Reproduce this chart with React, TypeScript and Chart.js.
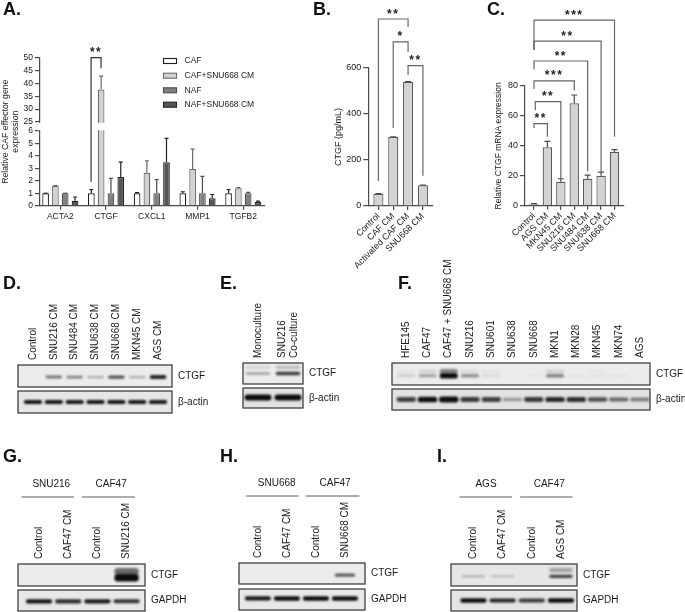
import React, { useEffect, useRef } from "react";
import { Chart, registerables, LinearScale, CategoryScale } from "chart.js";

/* ---------- data: panel A ---------- */
const genes = ["ACTA2", "CTGF", "CXCL1", "MMP1", "TGFB2"];
const aSeries = ["CAF", "CAF+SNU668 CM", "NAF", "NAF+SNU668 CM"];
const aCaf = [1, 1, 1, 1, 1];
const aCafCm = [1.6, 37.6, 2.65, 2.95, 1.4];
const aNaf = [1, 1, 1, 1, 1];
const aNafCm = [0.4, 2.3, 3.5, 0.6, 0.3];
const aCafErr = [0, 0.3, 0.05, 0.12, 0.3];
const aCafCmErr = [0.02, 5.2, 0.95, 1.6, 0.05];
const aNafErr = [0, 1.2, 1.1, 1.35, 0.07];
const aNafCmErr = [0.3, 1.2, 1.9, 0.3, 0.07];
const aTicks = [0, 1, 2, 3, 4, 5, 6, 25, 30, 35, 40, 45, 50];

/* ---------- data: panel B ---------- */
const bLabels = ["Control", "CAF CM", "Activated CAF CM", "SNU668 CM"];
const bValues = [53, 300, 540, 90];
const bErr = [0.5, 1, 1, 1];

/* ---------- data: panel C ---------- */
const cLabels = ["Control", "AGS CM", "MKN45 CM", "SNU216 CM", "SNU484 CM", "SNU638 CM", "SNU668 CM"];
const cValues = [1, 39, 16, 68.5, 18, 20, 36];
const cErr = [0.4, 4, 2, 5.5, 2.5, 2.5, 1.5];

/* ---------- data: significance brackets (x in category units, y in value units) ---------- */
const aBrackets = [{ from: 0.673, to: 0.891, top: 50, fromEnd: 1.93, toEnd: 45.9, stars: "**" }];
const bBrackets = [
  { from: 0, to: 2, top: 813, fromEnd: 109, toEnd: 778, stars: "**" },
  { from: 1, to: 2, top: 714, fromEnd: 339, toEnd: 670, stars: "*" },
  { from: 2, to: 3, top: 610, fromEnd: 570, toEnd: 132, stars: "**" },
];
const cBrackets = [
  { from: 0, to: 6, top: 124, fromEnd: 104, toEnd: 46, stars: "***" },
  { from: 0, to: 5, top: 110, fromEnd: 104, toEnd: 22.7, stars: "**" },
  { from: 0, to: 4, top: 96.7, fromEnd: 91, toEnd: 23, stars: "**" },
  { from: 0, to: 3, top: 83.4, fromEnd: 78, toEnd: 77, stars: "***" },
  { from: 0.1, to: 2, top: 69.5, fromEnd: 64, toEnd: 18, stars: "**" },
  { from: 0, to: 1, top: 54.8, fromEnd: 52, toEnd: 46, stars: "**" },
];

/* ---------- data: blot lanes and band densities ---------- */
const dLanes = ["Control", "SNU216 CM", "SNU484 CM", "SNU638 CM", "SNU668 CM", "MKN45 CM", "AGS CM"];
const dCtgf = [0, 0.5, 0.45, 0.28, 0.65, 0.28, 0.85];
const dActin = [0.92, 0.92, 0.9, 0.92, 0.92, 0.9, 0.9];
const eLanes = ["Monoculture", ["SNU216", "Co-culture"]];
const eCtgf = [0.32, 0.75];
const eCtgfSmear = [0.1, 0.2];
const eActin = [1, 1];
const fLanes = ["HFE145", "CAF47", "CAF47 + SNU668 CM", "SNU216", "SNU601", "SNU638", "SNU668", "MKN1", "MKN28", "MKN45", "MKN74", "AGS"];
const fCtgf = [0.15, 0.32, 1, 0.38, 0.08, 0, 0.03, 0.45, 0.04, 0.05, 0.05, 0];
const fCtgfSmear = [0.04, 0.1, 0.45, 0.08, 0.04, 0, 0, 0.12, 0, 0.03, 0, 0];
const fActin = [0.72, 0.95, 1, 0.75, 0.72, 0.32, 0.75, 0.82, 0.8, 0.65, 0.55, 0.45];
const gLanes = ["Control", "CAF47 CM", "Control", "SNU216 CM"];
const gCtgf = [0, 0, 0, 1];
const gCtgfSmear = [0, 0, 0, 0.55];
const gGapdh = [0.92, 0.82, 0.9, 0.78];
const hLanes = ["Control", "CAF47 CM", "Control", "SNU668 CM"];
const hCtgf = [0, 0, 0, 0.62];
const hGapdh = [0.9, 1, 0.95, 0.95];
const iLanes = ["Control", "CAF47 CM", "Control", "AGS CM"];
const iCtgf = [0.25, 0.2, 0, 0.72];
const iCtgfSmear = [0, 0, 0, 0.3];
const iGapdh = [0.95, 0.85, 0.75, 0.95];

/* ---------- chart.js setup ---------- */
const FONT = '"Liberation Sans", Arial, sans-serif';
const INK = "#1a1a1a";
const AXIS = "#4a4a4a";

class PadCategory extends (CategoryScale as any) {
  static id = "padCategory";
  static defaults = {};
  buildTicks() {
    const t = super.buildTicks();
    const [l, r] = (this as any).options.pad || [0, 0];
    (this as any)._startValue -= l;
    (this as any)._valueRange += l + r;
    return t;
  }
  _computeLabelItems(ca: any) {
    const items = super._computeLabelItems(ca);
    if ((this as any).options.position === "top") {
      items.forEach((it: any, i: number) => {
        const n = Array.isArray(it.label) ? it.label.length : 1;
        it.options.translation[0] = (this as any).getPixelForTick(i);
        it.textOffset = (-(n - 1) * it.font.lineHeight) / 2;
        it.options.textBaseline = "middle";
      });
    }
    return items;
  }
}

class BrokenScale extends (LinearScale as any) {
  static id = "broken";
  static defaults = {};
  buildTicks() {
    return (this as any).options.tickValues.map((value: number) => ({ value }));
  }
  getPixelForValue(v: number) {
    const { lowMax, highMin, lowFrac, highFrac } = (this as any).options.gap;
    const max = (this as any).max;
    let d;
    if (v <= lowMax) d = (v / lowMax) * lowFrac;
    else if (v >= highMin) d = highFrac + ((v - highMin) / (max - highMin)) * (1 - highFrac);
    else d = lowFrac + ((v - lowMax) / (highMin - lowMax)) * (highFrac - lowFrac);
    return (this as any).getPixelForDecimal(d);
  }
}

Chart.register(...registerables, PadCategory as any, BrokenScale as any);
Chart.defaults.font.family = FONT;
Chart.defaults.color = INK;

const fixedBox = (size: { width?: number; height?: number }) => (s: any) => {
  if (size.width !== undefined) s.width = size.width;
  if (size.height !== undefined) s.height = size.height;
  s.paddingLeft = s.paddingRight = s.paddingTop = s.paddingBottom = 0;
};

const errorBars = (errs: number[][], cap: number, colors: string[]) => ({
  id: "errorBars",
  afterDatasetsDraw(chart: any) {
    const ctx = chart.ctx;
    const y = chart.scales.y;
    errs.forEach((list, i) => {
      const meta = chart.getDatasetMeta(i);
      ctx.save();
      ctx.strokeStyle = colors[i];
      ctx.lineWidth = 1.2;
      list.forEach((e, j) => {
        const el = meta.data[j];
        const v = chart.data.datasets[i].data[j];
        const top = y.getPixelForValue(v + e);
        ctx.beginPath();
        ctx.moveTo(el.x, el.y);
        ctx.lineTo(el.x, top);
        ctx.moveTo(el.x - cap, top);
        ctx.lineTo(el.x + cap, top);
        ctx.stroke();
      });
      ctx.restore();
    });
  },
});

const brackets = (list: any[], color: string, before?: (c: any) => void) => ({
  id: "brackets",
  afterDraw(chart: any) {
    if (before) before(chart);
    const { x, y } = chart.scales;
    const ctx = chart.ctx;
    ctx.save();
    ctx.strokeStyle = color;
    ctx.lineWidth = 1.2;
    ctx.fillStyle = "#222";
    ctx.textAlign = "center";
    ctx.textBaseline = "alphabetic";
    ctx.font = `bold 12px ${FONT}`;
    (ctx as any).letterSpacing = "1.5px";
    list.forEach((b) => {
      const x0 = x.getPixelForValue(b.from);
      const x1 = x.getPixelForValue(b.to);
      const top = y.getPixelForValue(b.top);
      ctx.beginPath();
      ctx.moveTo(x0, y.getPixelForValue(b.fromEnd));
      ctx.lineTo(x0, top);
      ctx.lineTo(x1, top);
      ctx.lineTo(x1, y.getPixelForValue(b.toEnd));
      ctx.stroke();
      ctx.fillText(b.stars, (x0 + x1) / 2, top - 1.5);
    });
    ctx.restore();
  },
});

const breakStrip = (chart: any) => {
  const { chartArea: a, ctx } = chart;
  const y = chart.scales.y;
  const y0 = y.getPixelForValue(25) + 0.8;
  const y1 = y.getPixelForValue(6) - 0.8;
  ctx.save();
  ctx.fillStyle = "#fff";
  ctx.fillRect(a.left - 1.5, y0, a.right - a.left + 2, y1 - y0);
  ctx.restore();
};

const LEGEND_BOXES = { x: 163.5, w: 13, h: 5, text: 184.5, ys: [61, 75.7, 90.3, 104.7] };
const seriesLegend = {
  id: "seriesLegend",
  afterDraw(chart: any) {
    const ctx = chart.ctx;
    ctx.save();
    ctx.font = `8.5px ${FONT}`;
    ctx.textBaseline = "middle";
    chart.data.datasets.forEach((ds: any, i: number) => {
      const y = LEGEND_BOXES.ys[i];
      ctx.fillStyle = ds.backgroundColor;
      ctx.strokeStyle = ds.borderColor;
      ctx.lineWidth = 1.1;
      ctx.fillRect(LEGEND_BOXES.x, y - LEGEND_BOXES.h / 2, LEGEND_BOXES.w, LEGEND_BOXES.h);
      ctx.strokeRect(LEGEND_BOXES.x, y - LEGEND_BOXES.h / 2, LEGEND_BOXES.w, LEGEND_BOXES.h);
      ctx.fillStyle = INK;
      ctx.fillText(ds.label, LEGEND_BOXES.text, y);
    });
    ctx.restore();
  },
};

const valueY = (box: any, title: string | string[], titleSize: number, extra: any) => ({
  position: "left",
  afterFit: fixedBox({ width: box.plot[0] }),
  border: { color: AXIS, width: 1.2 },
  grid: { drawOnChartArea: false, drawTicks: true, tickLength: 5, color: AXIS, lineWidth: 1.2 },
  ticks: { padding: 2, font: { size: box.tick }, color: INK, autoSkip: false },
  title: { display: true, text: title, font: { size: titleSize }, color: INK, padding: 0 },
  ...extra,
});

const catX = (box: any, extra: any) => ({
  type: "padCategory",
  position: "bottom",
  afterFit: fixedBox({ height: box.h - box.plot[3] }),
  border: { color: AXIS, width: 1.2 },
  grid: { display: true, offset: false, drawOnChartArea: false, drawTicks: true, tickLength: 4, color: AXIS, lineWidth: 1.2 },
  ...extra,
});

const padFor = (box: any) => ({ left: 0, top: box.plot[2], right: box.w - box.plot[1], bottom: 0 });

/* plot boxes are [left, right, top, bottom] inside each canvas */
const boxA = { left: 0, top: 0, w: 300, h: 240, plot: [40, 265, 57.7, 205.7], tick: 8.5 };
const boxB = { left: 333, top: 0, w: 112, h: 275, plot: [35.3, 100, 68, 206], tick: 9 };
const boxC = { left: 494, top: 0, w: 191, h: 275, plot: [31, 129.5, 86, 205.7], tick: 9 };

const configA = () => ({
  type: "bar",
  data: {
    labels: genes,
    datasets: [
      { label: aSeries[0], data: aCaf, backgroundColor: "#ffffff", borderColor: "#1c1c1c" },
      { label: aSeries[1], data: aCafCm, backgroundColor: "#d2d2d2", borderColor: "#6a6a6a" },
      { label: aSeries[2], data: aNaf, backgroundColor: "#808080", borderColor: "#4c4c4c" },
      { label: aSeries[3], data: aNafCm, backgroundColor: "#565656", borderColor: "#222222" },
    ].map((d) => ({ ...d, borderWidth: 1.2, barPercentage: 0.68, categoryPercentage: 0.857 })),
  },
  options: {
    layout: { padding: padFor(boxA) },
    scales: {
      x: catX(boxA, { pad: [-0.056, -0.025], ticks: { padding: 2, font: { size: 8.5 }, color: INK, autoSkip: false, maxRotation: 0 } }),
      y: valueY(boxA, ["Relative CAF effector gene", "expression"], 8.7, {
        type: "broken",
        min: 0,
        max: 50,
        tickValues: aTicks,
        gap: { lowMax: 6, highMin: 25, lowFrac: 0.5047, highFrac: 0.5655 },
      }),
    },
  },
  plugins: [
    errorBars([aCafErr, aCafCmErr, aNafErr, aNafCmErr], 2, ["#1c1c1c", "#6a6a6a", "#4c4c4c", "#222222"]),
    brackets(aBrackets, "#333", breakStrip),
    seriesLegend,
  ],
});

const simpleBars = (box: any, labels: string[], values: number[], errs: number[], list: any[], title: string, titleSize: number, yMax: number, step: number, pad: number[], barPct: number, cap: number) => ({
  type: "bar",
  data: {
    labels,
    datasets: [{ data: values, backgroundColor: "#d3d3d3", borderColor: "#5a5a5a", borderWidth: 1.2, barPercentage: barPct, categoryPercentage: 1 }],
  },
  options: {
    layout: { padding: padFor(box) },
    scales: {
      x: catX(box, { pad, ticks: { padding: 1, font: { size: 9 }, color: INK, autoSkip: false, minRotation: 45, maxRotation: 45 } }),
      y: valueY(box, title, titleSize, { min: 0, max: yMax, ticks: { padding: 2, stepSize: step, font: { size: box.tick }, color: INK } }),
    },
  },
  plugins: [errorBars([errs], cap, ["#4a4a4a"]), brackets(list, "#666")],
});

/* ---------- blot strips ---------- */
const LABEL_ROOM = 112;
const RIGHT_ROOM = 55;
const BLOT_EDGE = 2;

const bandData = (density: number[], center: number, thick: number) =>
  density.map((d) => {
    if (d <= 0) return null;
    const h = thick * (0.35 + 0.65 * d);
    return [center - h / 2, center + h / 2];
  });
const bandColor = (density: number[]) => density.map((d) => `rgba(12,12,12,${Math.min(1, d * 1.05)})`);

const blotDecor = (s: any) => ({
  id: "blotDecor",
  beforeDatasetsDraw(chart: any) {
    const { ctx, chartArea: a } = chart;
    ctx.save();
    ctx.fillStyle = s.bg || "#ececec";
    ctx.fillRect(a.left, a.top, a.right - a.left, a.bottom - a.top);
    ctx.restore();
    ctx.save();
    ctx.filter = `blur(${s.blur ?? 1.2}px)`;
  },
  afterDatasetsDraw(chart: any) {
    const { ctx, chartArea: a } = chart;
    ctx.restore();
    ctx.save();
    ctx.strokeStyle = s.frame || "#3f3f3f";
    ctx.lineWidth = 1.3;
    ctx.strokeRect(a.left, a.top, a.right - a.left, a.bottom - a.top);
    const x = chart.scales.x;
    (s.groups || []).forEach((g: any) => {
      ctx.strokeStyle = "#5a5a5a";
      ctx.lineWidth = 1;
      ctx.beginPath();
      const ry = a.top - 67;
      ctx.moveTo(x.getPixelForValue(g.from), ry);
      ctx.lineTo(x.getPixelForValue(g.to), ry);
      ctx.stroke();
      ctx.fillStyle = INK;
      ctx.font = `10px ${FONT}`;
      ctx.textAlign = "center";
      ctx.textBaseline = "middle";
      ctx.fillText(g.label, x.getPixelForValue(g.at), a.top - 80);
    });
    ctx.restore();
  },
});

const stripConfig = (s: any) => {
  const datasets: any[] = [
    { data: bandData(s.density, s.center, s.thick), backgroundColor: bandColor(s.density), barPercentage: s.width, categoryPercentage: 1, borderWidth: 0, borderSkipped: false, borderRadius: 30 },
  ];
  if (s.smear) {
    datasets.unshift({ data: bandData(s.smear, s.smearCenter, s.smearThick || 0.35), backgroundColor: bandColor(s.smear), barPercentage: s.width, categoryPercentage: 1, borderWidth: 0, borderSkipped: false, borderRadius: 30 });
  }
  const room = s.lanes ? LABEL_ROOM : 0;
  return {
    type: "bar",
    data: { labels: s.lanes || s.density.map((_: number, i: number) => String(i)), datasets },
    options: {
      datasets: { bar: { grouped: false } },
      layout: { padding: { left: BLOT_EDGE, top: s.lanes ? 0 : BLOT_EDGE, right: 0, bottom: BLOT_EDGE } },
      scales: {
        x: {
          type: "padCategory",
          position: "top",
          display: !!s.lanes,
          pad: s.pad,
          afterFit: fixedBox({ height: room }),
          border: { display: false },
          grid: { display: false, drawTicks: false, offset: false },
          ticks: { padding: 5, font: { size: 10 }, color: INK, autoSkip: false, minRotation: 90, maxRotation: 90 },
        },
        y: {
          position: "right",
          min: 0,
          max: 1,
          afterBuildTicks: (sc: any) => {
            sc.ticks = [{ value: 0.5 }];
          },
          afterFit: fixedBox({ width: RIGHT_ROOM }),
          border: { display: false },
          grid: { display: false, drawTicks: false },
          ticks: { padding: 6, font: { size: 10 }, color: INK, callback: () => s.name, autoSkip: false },
        },
      },
    },
    plugins: [blotDecor(s)],
  };
};

const strips: any[] = [
  { name: "CTGF", lanes: dLanes, x0: 18, x1: 172, y0: 365, y1: 387, pad: [0.22, 0.17], center: 0.45, thick: 0.2, density: dCtgf, width: 0.8 },
  { name: "β-actin", x0: 18, x1: 172, y0: 391, y1: 413, pad: [0.22, 0.17], center: 0.5, thick: 0.2, density: dActin, width: 0.88, bg: "#e6e6e6" },
  { name: "CTGF", lanes: eLanes, x0: 243.3, x1: 303, y0: 363, y1: 384, pad: [0, 0], center: 0.5, thick: 0.2, density: eCtgf, smear: eCtgfSmear, smearCenter: 0.8, width: 0.82 },
  { name: "β-actin", x0: 243.3, x1: 303, y0: 388, y1: 408, pad: [0, 0], center: 0.52, thick: 0.3, density: eActin, width: 0.9, bg: "#e2e2e2" },
  { name: "CTGF", lanes: fLanes, x0: 391.7, x1: 650, y0: 363.3, y1: 385.3, pad: [0.17, -0.03], center: 0.42, thick: 0.26, density: fCtgf, smear: fCtgfSmear, smearCenter: 0.62, width: 0.85 },
  { name: "β-actin", x0: 391.7, x1: 650, y0: 388.7, y1: 410, pad: [0.17, -0.03], center: 0.5, thick: 0.28, density: fActin, width: 0.92, bg: "#e2e2e2" },
  { name: "CTGF", lanes: gLanes, x0: 18.3, x1: 145, y0: 564.3, y1: 586, pad: [0.22, 0.13], center: 0.38, thick: 0.36, density: gCtgf, smear: gCtgfSmear, smearCenter: 0.66, smearThick: 0.46, width: 0.84, groups: [
    { label: "SNU216", from: -0.6, to: 1.2, at: 0.42 },
    { label: "CAF47", from: 1.47, to: 3.29, at: 2.47 },
  ] },
  { name: "GAPDH", x0: 18.3, x1: 145, y0: 590, y1: 611, pad: [0.22, 0.13], center: 0.46, thick: 0.22, density: gGapdh, width: 0.9, bg: "#e8e8e8" },
  { name: "CTGF", lanes: hLanes, x0: 239.3, x1: 365.7, y0: 563.3, y1: 584.7, pad: [0.15, 0.19], center: 0.42, thick: 0.2, density: hCtgf, width: 0.7, groups: [
    { label: "SNU668", from: -0.4, to: 1.4, at: 0.65 },
    { label: "CAF47", from: 1.65, to: 3.5, at: 2.66 },
  ] },
  { name: "GAPDH", x0: 239.3, x1: 365.7, y0: 589.3, y1: 610.7, pad: [0.15, 0.19], center: 0.55, thick: 0.22, density: hGapdh, width: 0.9, bg: "#e8e8e8" },
  { name: "CTGF", lanes: iLanes, x0: 451, x1: 576.7, y0: 564.3, y1: 586, pad: [0.27, 0.05], center: 0.44, thick: 0.18, density: iCtgf, smear: iCtgfSmear, smearCenter: 0.72, smearThick: 0.34, width: 0.8, bg: "#e6e6e6", groups: [
    { label: "AGS", from: -0.48, to: 1.32, at: 0.43 },
    { label: "CAF47", from: 1.6, to: 3.4, at: 2.6 },
  ] },
  { name: "GAPDH", x0: 451, x1: 576.7, y0: 589.7, y1: 611, pad: [0.27, 0.05], center: 0.5, thick: 0.22, density: iGapdh, width: 0.9, bg: "#e4e4e4" },
];

const stripBox = (s: any) => {
  const room = s.lanes ? LABEL_ROOM : BLOT_EDGE;
  return {
    left: s.x0 - BLOT_EDGE,
    top: s.y0 - room,
    w: s.x1 - s.x0 + BLOT_EDGE + RIGHT_ROOM,
    h: s.y1 - s.y0 + room + BLOT_EDGE,
  };
};

const letters = [
  { t: "A.", x: 3, y: -1 },
  { t: "B.", x: 313, y: -1 },
  { t: "C.", x: 487, y: -1 },
  { t: "D.", x: 3, y: 273 },
  { t: "E.", x: 220, y: 273 },
  { t: "F.", x: 398, y: 273 },
  { t: "G.", x: 3, y: 446 },
  { t: "H.", x: 220, y: 446 },
  { t: "I.", x: 437, y: 446 },
];

function Panel({ box, make }: { box: any; make: () => any }) {
  const ref = useRef<HTMLCanvasElement>(null);
  useEffect(() => {
    const cfg = make();
    cfg.options = { ...cfg.options, animation: false, responsive: false, maintainAspectRatio: false, devicePixelRatio: 1, events: [] };
    cfg.options.plugins = { legend: { display: false }, tooltip: { enabled: false }, title: { display: false } };
    const chart = new Chart(ref.current as any, cfg);
    return () => chart.destroy();
  }, []);
  return (
    <canvas
      ref={ref}
      width={Math.round(box.w)}
      height={Math.round(box.h)}
      style={{ position: "absolute", left: box.left, top: box.top, width: Math.round(box.w), height: Math.round(box.h), display: "block" }}
    />
  );
}

export default function App() {
  return (
    <div style={{ position: "absolute", left: 0, top: 0, width: 685, height: 612, background: "#fff", overflow: "hidden", fontFamily: FONT }}>
      <Panel box={boxA} make={configA} />
      <Panel box={boxB} make={() => simpleBars(boxB, bLabels, bValues, bErr, bBrackets, "CTGF (pg/mL)", 9, 600, 200, [0.18, 0.18], 0.68, 3)} />
      <Panel box={boxC} make={() => simpleBars(boxC, cLabels, cValues, cErr, cBrackets, "Relative CTGF mRNA expression", 8.5, 80, 20, [0.17, 0.17], 0.7, 3)} />
      {strips.map((s, i) => (
        <Panel key={i} box={stripBox(s)} make={() => stripConfig(s)} />
      ))}
      {letters.map((l) => (
        <div key={l.t} style={{ position: "absolute", left: l.x, top: l.y, font: `bold 18px ${FONT}`, color: "#111", lineHeight: "20px" }}>
          {l.t}
        </div>
      ))}
    </div>
  );
}
